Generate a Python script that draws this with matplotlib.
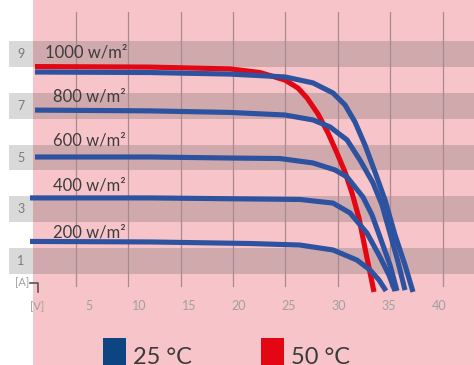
import matplotlib as mpl

mpl.use('Agg')
import matplotlib.pyplot as plt
from matplotlib.patches import Rectangle
from matplotlib.lines import Line2D

# I-V curves (volts, amps)
v_50_1000 = [-0.4, 11.1, 19.1, 22.1, 24.6, 25.9, 26.8, 27.9, 28.9, 29.8, 30.6, 31.3, 32.0, 32.7, 33.5]
i_50_1000 = [8.51, 8.49, 8.42, 8.28, 7.99, 7.68, 7.30, 6.68, 5.95, 5.17, 4.44, 3.63, 2.66, 1.31, -0.19]

v_25_1000 = [-0.4, 11.1, 19.1, 24.6, 27.4, 29.4, 30.6, 31.6, 32.6, 33.6, 34.6, 35.6, 36.6, 37.4]
i_25_1000 = [8.30, 8.28, 8.22, 8.11, 7.88, 7.49, 7.03, 6.37, 5.48, 4.44, 3.36, 2.01, 0.85, -0.19]

v_25_800 = [-0.4, 11.1, 19.1, 24.6, 27.4, 29.1, 30.8, 32.1, 33.4, 34.3, 35.1, 35.9, 36.6]
i_25_800 = [6.83, 6.80, 6.74, 6.64, 6.45, 6.18, 5.68, 4.90, 4.02, 3.17, 2.08, 0.97, -0.12]

v_25_600 = [-0.4, 11.1, 19.1, 24.1, 27.4, 29.6, 30.8, 32.4, 33.3, 34.1, 35.1, 35.8]
i_25_600 = [5.02, 5.02, 4.98, 4.96, 4.79, 4.52, 4.25, 3.47, 2.78, 1.93, 0.85, -0.15]

v_25_400 = [-0.9, 11.1, 21.1, 26.1, 29.4, 31.1, 32.8, 34.1, 35.0, 35.6]
i_25_400 = [3.44, 3.44, 3.40, 3.38, 3.24, 2.86, 2.08, 1.16, 0.46, -0.15]

v_25_200 = [-0.9, 11.1, 21.1, 26.1, 29.4, 31.8, 33.1, 34.0, 34.7]
i_25_200 = [1.76, 1.74, 1.68, 1.62, 1.43, 1.04, 0.66, 0.27, -0.15]

irr_labels = ['1000 w/m²', '800 w/m²', '600 w/m²', '400 w/m²', '200 w/m²']
irr_label_x = [0.6, 1.4, 1.4, 1.4, 1.4]
irr_label_y = [8.85, 7.18, 5.45, 3.72, 1.93]

band_values = [1, 3, 5, 7, 9]
x_ticks = [5, 10, 15, 20, 25, 30, 35, 40]
grid_x = [3.67, 8.91, 14.15, 19.39, 24.63, 29.87, 35.11, 40.35]

legend_names = ['25 °C', '50 °C']

BLUE = '#2c52a0'
RED = '#e30613'
PINK = '#f7c5c9'
BAND = '#d0a9ad'

plt.rcParams['font.family'] = ['Lato', 'DejaVu Sans']

fig = plt.figure(figsize=(4.74, 3.65), dpi=100)
fig.patch.set_facecolor('white')
ax = fig.add_axes([33 / 474, 0, 441 / 474, 1])
ax.set_facecolor(PINK)
ax.set_xlim(-0.6, 43.5)
ax.set_ylim(-3.01, 11.08)
for s in ax.spines.values():
    s.set_visible(False)
ax.set_xticks([])
ax.set_yticks([])

# grey bands + label boxes at the left
for b in band_values:
    ax.axhspan(b - 0.5, b + 0.5, color=BAND, zorder=1, lw=0)
    ax.add_patch(Rectangle((-3.0, b - 0.5), 2.4, 1.0, color='#d9d9d9', lw=0,
                           clip_on=False, zorder=1))
    ax.text(-1.8, b, str(b), ha='center', va='center', fontsize=9,
            color='#7a7a7a', clip_on=False)

# vertical grid lines
for gx in grid_x:
    ax.plot([gx, gx], [0.05, 10.6], color='#a88a8e', lw=0.9, zorder=2)

# x tick labels
for t in x_ticks:
    ax.text(t, -0.75, str(t), ha='center', va='center', fontsize=9, color='#a0a0a0')
ax.text(-0.2, -0.75, '[V]', ha='center', va='center', fontsize=8, color='#a0a0a0')
fig.text(22 / 474, 1 - 283 / 365, '[A]', ha='center', va='center', fontsize=8, color='#a0a0a0')
fig.add_artist(Line2D([30 / 474, 38 / 474, 38 / 474],
                      [1 - 283 / 365, 1 - 283 / 365, 1 - 292 / 365],
                      color='#555555', lw=1.2))

# curves
kw = dict(lw=3.7, solid_capstyle='butt', solid_joinstyle='round', zorder=5, clip_on=False)
ax.plot(v_50_1000, i_50_1000, color=RED, **kw)
for v, i in [(v_25_1000, i_25_1000), (v_25_800, i_25_800), (v_25_600, i_25_600),
             (v_25_400, i_25_400), (v_25_200, i_25_200)]:
    ax.plot(v, i, color=BLUE, **kw)

for lab, x, y in zip(irr_labels, irr_label_x, irr_label_y):
    ax.text(x, y, lab, ha='left', va='baseline', fontsize=12, color='#3c3c3c', zorder=6)

# legend squares at the bottom
ax.add_patch(Rectangle((6.4, -3.3), 2.3, 1.33, color='#0d4583', lw=0, zorder=6))
ax.add_patch(Rectangle((22.2, -3.3), 2.3, 1.33, color=RED, lw=0, zorder=6))
ax.text(9.4, -2.97, legend_names[0], ha='left', va='baseline', fontsize=17, color='#3a3a3a')
ax.text(25.2, -2.97, legend_names[1], ha='left', va='baseline', fontsize=17, color='#3a3a3a')

fig.savefig('out.png', dpi=100, facecolor='white')
